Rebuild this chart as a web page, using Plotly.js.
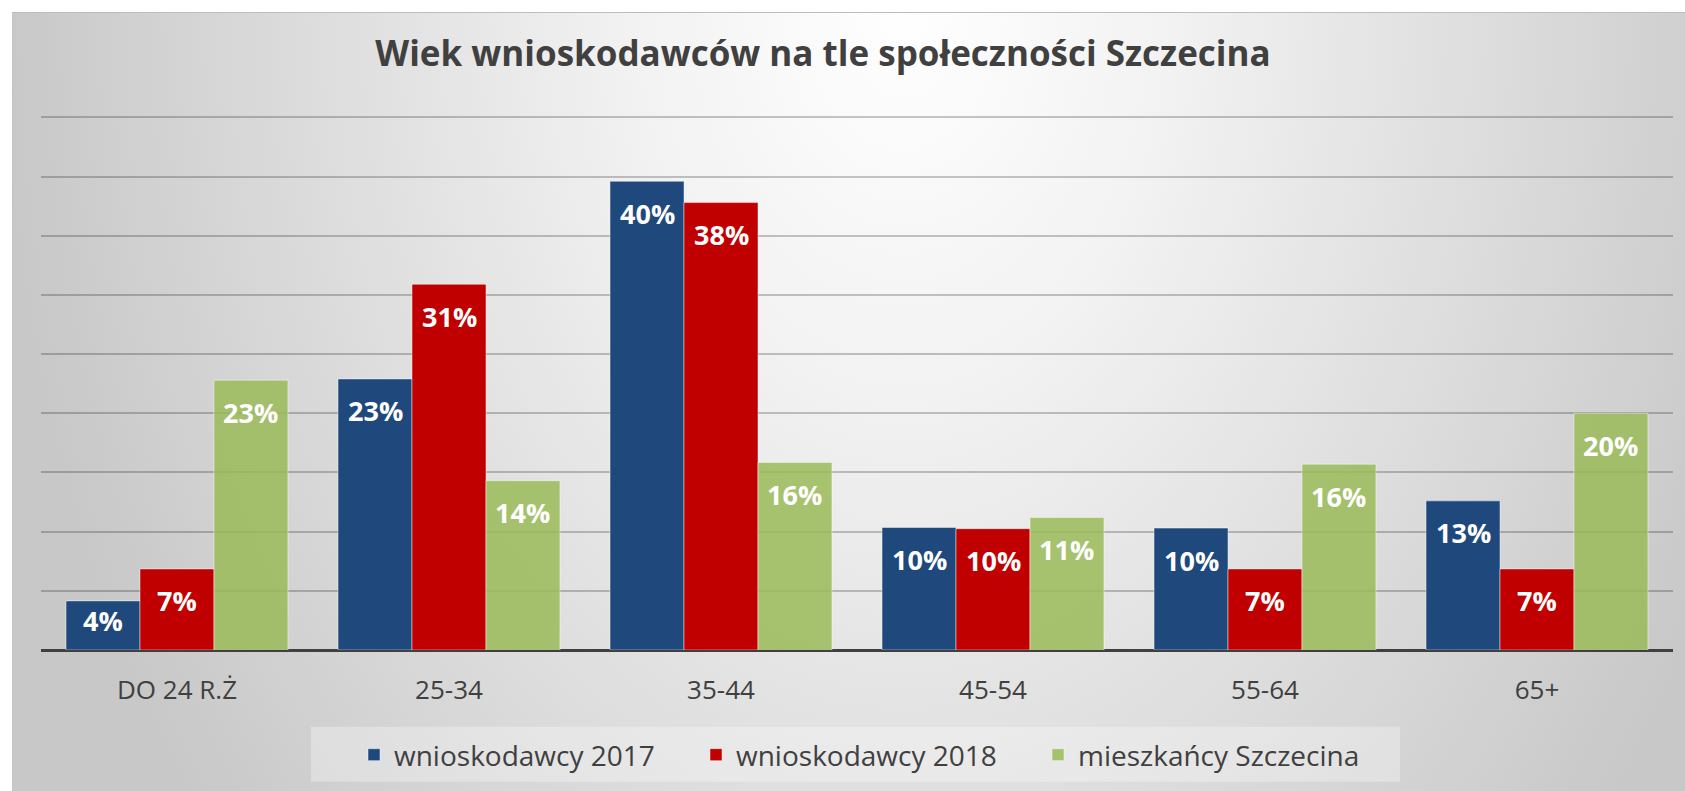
<!DOCTYPE html>
<html>
<head>
<meta charset="utf-8">
<script src="https://cdn.plot.ly/plotly-3.0.1.min.js"></script>
<style>
  html, body { margin: 0; padding: 0; background: #ffffff; }
  #bg {
    position: absolute; left: 12px; top: 12px; width: 1673px; height: 779px;
    box-sizing: border-box;
    border-top: 1px solid #bdbdbd; border-left: 1px solid #c4c4c4;
    background: radial-gradient(ellipse 900px 1300px at 890px -12px, #ffffff 0%, #f2f2f2 30%, #c8c8c8 100%);
  }
  #chart { position: absolute; left: 0; top: 0; width: 1685px; height: 791px; }
</style>
</head>
<body>
<div id="bg"></div>
<div id="chart"></div>
<script>
// ---- data ----
const categories = ['DO 24 R.Ż', '25-34', '35-44', '45-54', '55-64', '65+'];
const seriesNames = ['wnioskodawcy 2017', 'wnioskodawcy 2018', 'mieszkańcy Szczecina'];
const wnioskodawcy2017 = [4.15, 22.9, 39.6, 10.35, 10.3, 12.6];
const wnioskodawcy2018 = [6.85, 30.9, 37.8, 10.25, 6.85, 6.85];
const mieszkancySzczecina = [22.8, 14.3, 15.85, 11.2, 15.7, 20.0];
const titleText = 'Wiek wnioskodawców na tle społeczności Szczecina';

// ---- styles ----
const W = 1685, H = 791;
const margin = {l: 41, r: 12, t: 115, b: 140};
const yMax = 45.2;
const bargap = 0.184;
const colors = ['#1F497D', '#C00000', 'rgba(155,187,89,0.85)'];
const FONT = '"Open Sans", "DejaVu Sans", sans-serif';

const seriesValues = [wnioskodawcy2017, wnioskodawcy2018, mieszkancySzczecina];

const traces = seriesValues.map((vals, i) => ({
  type: 'bar',
  name: seriesNames[i],
  x: categories,
  y: vals,
  marker: {color: colors[i], line: {color: 'rgba(255,255,255,0.45)', width: 1}},
  hoverinfo: 'x+y+name'
}));

// label annotations (inside end of each bar)
const plotW = W - margin.l - margin.r;
const plotH = H - margin.t - margin.b;
const barPx = plotW / categories.length * (1 - bargap) / seriesValues.length;
const pxPerUnit = plotH / yMax;
const annotations = [];
seriesValues.forEach((vals, i) => {
  vals.forEach((v, j) => {
    annotations.push({
      x: categories[j], y: v, xref: 'x', yref: 'y',
      xshift: (i - (seriesValues.length - 1) / 2) * barPx,
      yshift: -Math.min(32, 0.4 * v * pxPerUnit),
      yanchor: 'middle', xanchor: 'center',
      text: Math.round(v) + '%',
      showarrow: false,
      font: {family: FONT, size: 27, color: '#ffffff', weight: 700}
    });
  });
});

const layout = {
  width: W, height: H,
  margin: margin,
  paper_bgcolor: 'rgba(0,0,0,0)',
  plot_bgcolor: 'rgba(0,0,0,0)',
  barmode: 'group',
  bargap: bargap,
  bargroupgap: 0,
  title: {
    text: titleText,
    x: 823 / W, xanchor: 'center', xref: 'container',
    y: 1 - 54 / H, yanchor: 'middle', yref: 'container',
    font: {family: FONT, size: 35, color: '#404040', weight: 700}
  },
  xaxis: {
    type: 'category',
    showgrid: false,
    showline: false,
    ticks: '',
    ticklabelstandoff: 22,
    tickfont: {family: FONT, size: 26, color: '#404040'}
  },
  yaxis: {
    range: [0, yMax],
    dtick: 5,
    showticklabels: false,
    ticks: '',
    showgrid: true,
    gridcolor: 'rgba(0,0,0,0.22)',
    gridwidth: 2,
    zeroline: true,
    zerolinecolor: '#404040',
    zerolinewidth: 3,
    showline: false
  },
  legend: {
    orientation: 'h',
    x: 0.5 + 10 / plotW, xanchor: 'center',
    y: -(755 - (H - margin.b)) / plotH, yanchor: 'middle',
    bgcolor: 'rgba(0,0,0,0)',
    entrywidth: 297, entrywidthmode: 'pixels',
    font: {family: FONT, size: 28, color: '#404040'}
  },
  shapes: [{
    type: 'rect', xref: 'paper', yref: 'paper', layer: 'below',
    x0: (311 - margin.l) / plotW, x1: (1400 - margin.l) / plotW,
    y0: -(728 - (H - margin.b)) / plotH, y1: -(783 - (H - margin.b)) / plotH,
    fillcolor: 'rgba(255,255,255,0.3)', line: {width: 0}
  }],
  annotations: annotations,
  showlegend: true
};

Plotly.newPlot('chart', traces, layout, {displayModeBar: false, responsive: false});
</script>
</body>
</html>
